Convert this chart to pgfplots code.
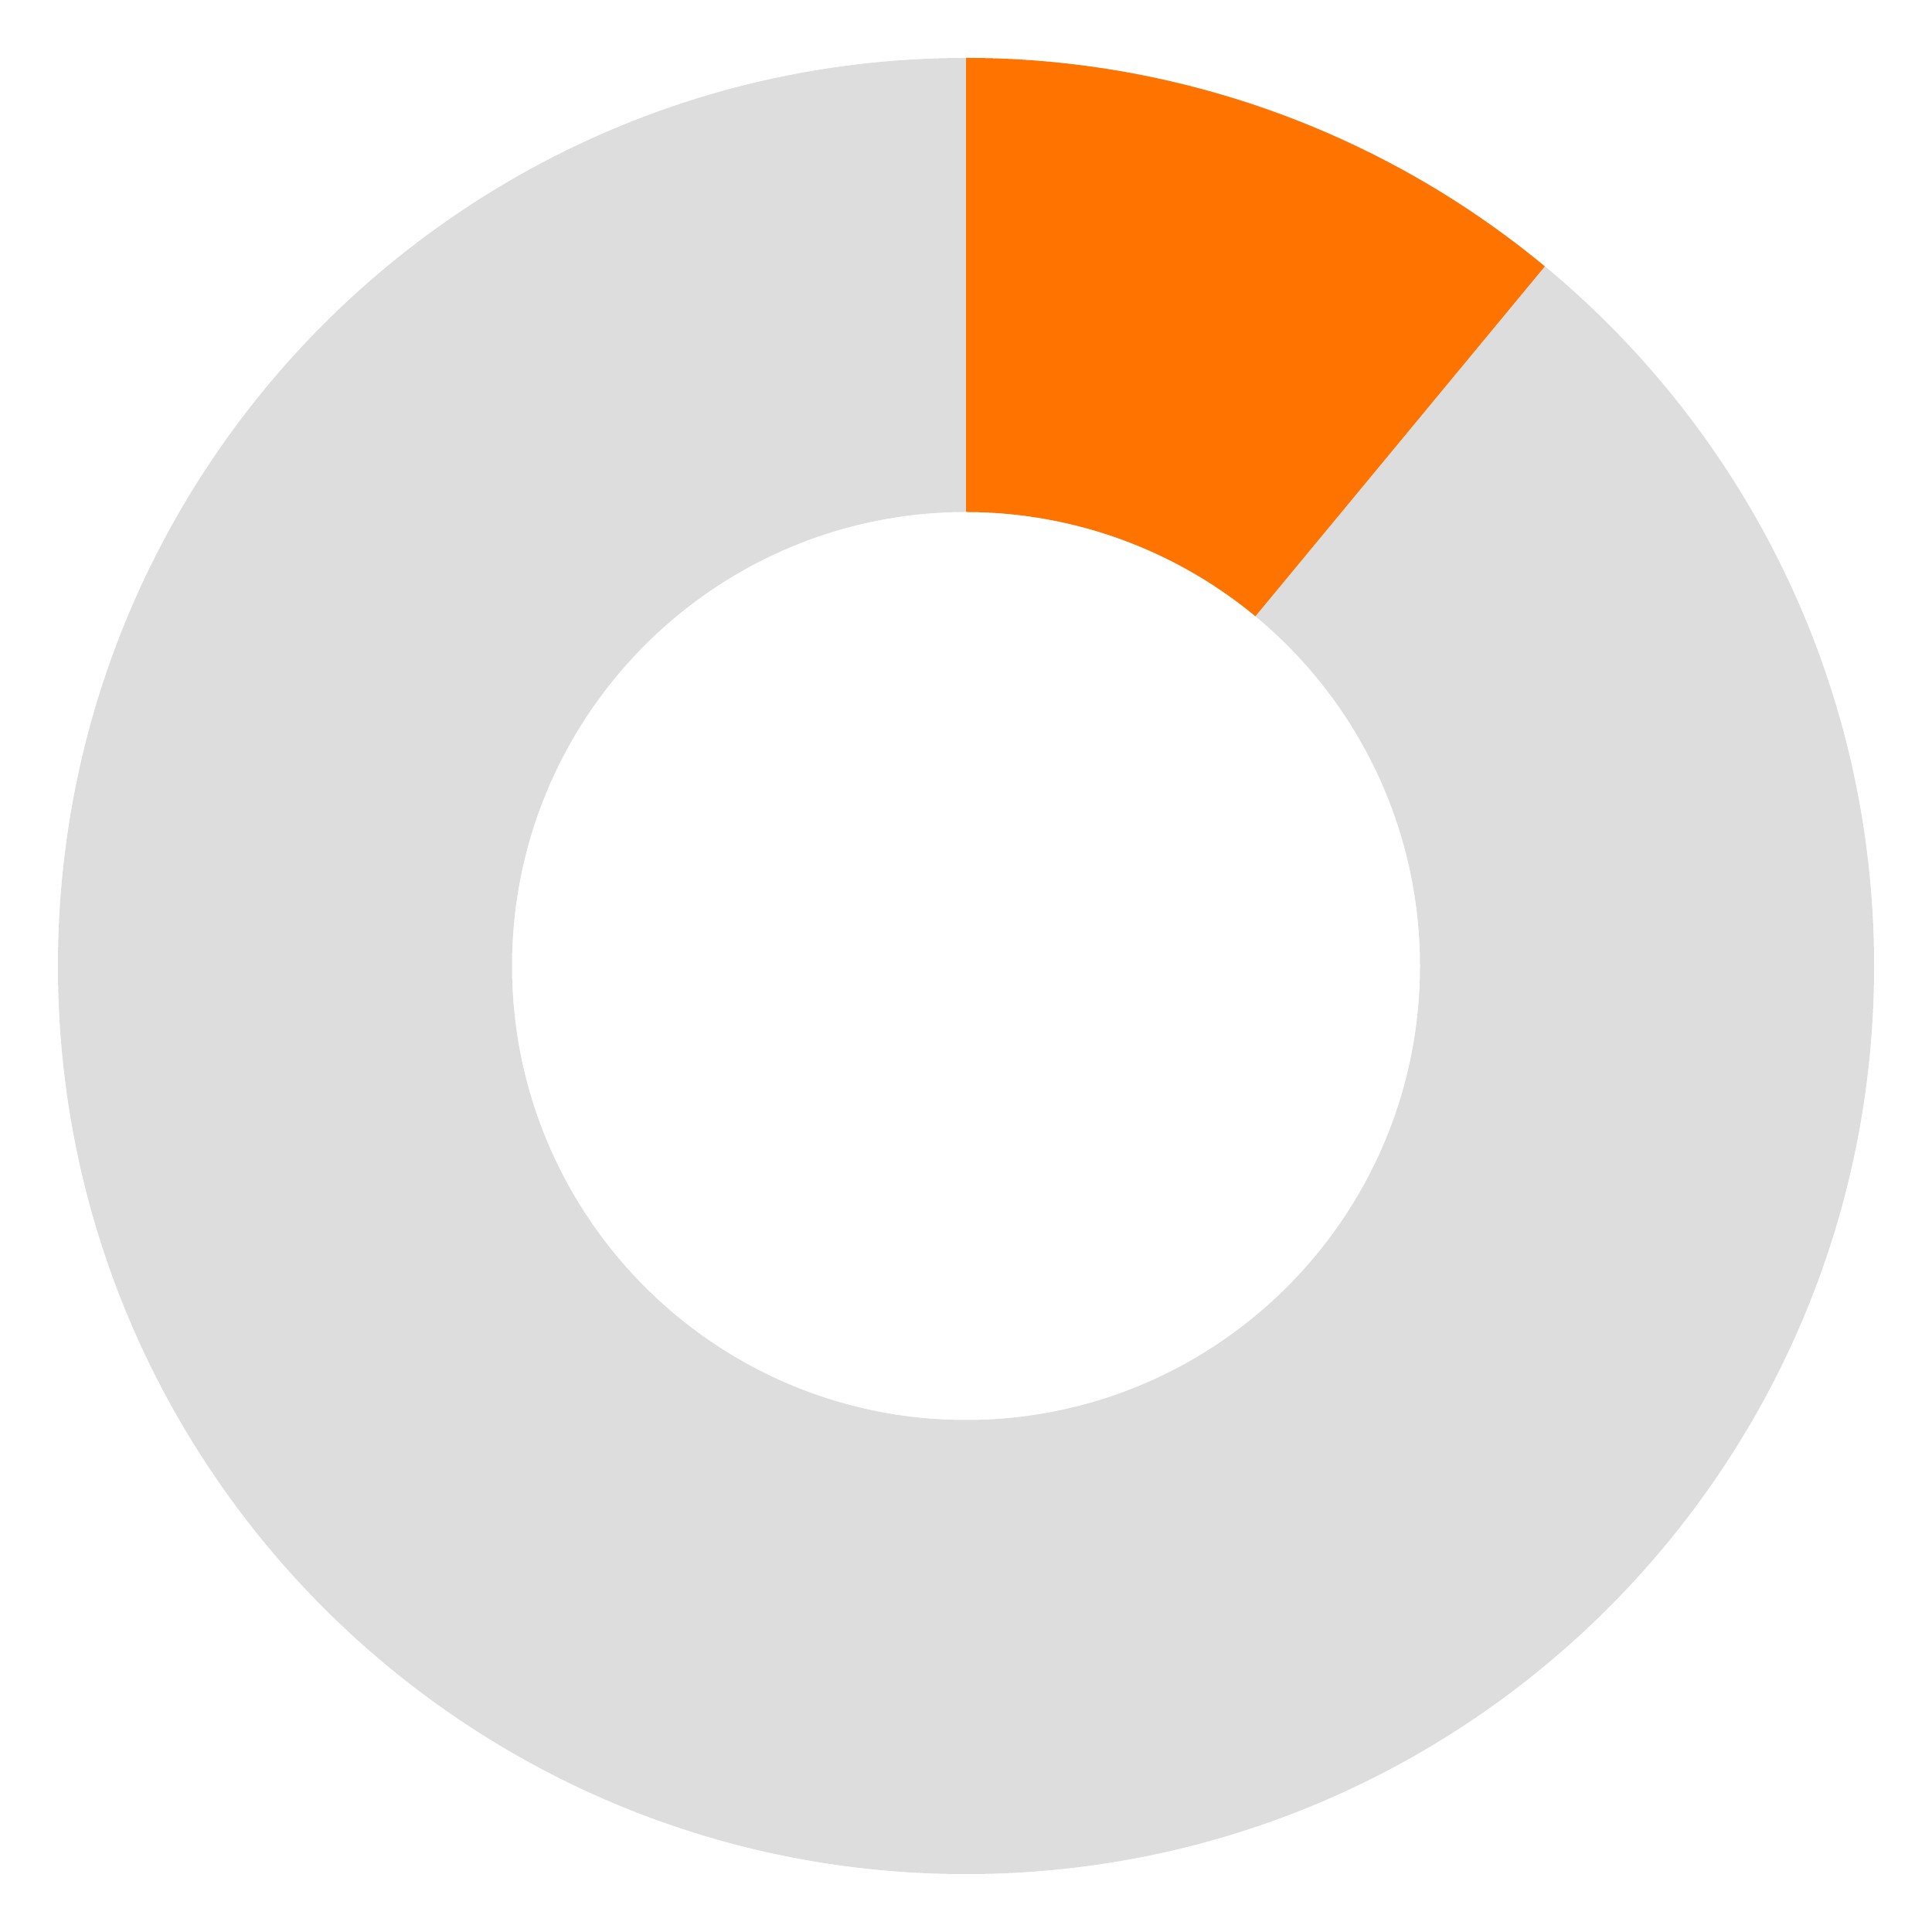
\documentclass[border=0pt]{standalone}
\usepackage{pgfplots}
\pgfplotsset{compat=1.18}
\usepackage{pgfplotstable}

\definecolor{share}{HTML}{FF7300}
\definecolor{rest}{HTML}{DDDDDD}

% share of the ring, in percent
\pgfplotstableread{
label value
share 11
rest  89
}\donutdata

\pgfplotstablegetelem{0}{value}\of\donutdata
\let\sharevalue\pgfplotsretval

\begin{document}
\begin{tikzpicture}
\begin{axis}[
    x=1cm, y=1cm,
    xmin=-5, xmax=5,
    ymin=-5, ymax=5,
    hide axis,
    clip=false,
]
  % keeps the picture square, with the margin round the ring
  \addplot[draw=none] coordinates {(-5,-5) (5,5)};

  \pgfmathsetmacro{\outerR}{4.7}
  \pgfmathsetmacro{\innerR}{2.35}
  \pgfmathsetmacro{\endangle}{90-3.6*\sharevalue}
  \pgfmathsetmacro{\xi}{\innerR*cos(\endangle)}
  \pgfmathsetmacro{\yi}{\innerR*sin(\endangle)}

  % grey ring
  \fill[rest, even odd rule]
    (axis cs:0,0) circle[radius=\outerR]
    (axis cs:0,0) circle[radius=\innerR];

  % orange share, clockwise from the top
  \fill[share]
    (axis cs:0,\outerR)
    arc[start angle=90, end angle=\endangle, radius=\outerR]
    -- (axis cs:\xi,\yi)
    arc[start angle=\endangle, end angle=90, radius=\innerR]
    -- cycle;
\end{axis}
\end{tikzpicture}
\end{document}
